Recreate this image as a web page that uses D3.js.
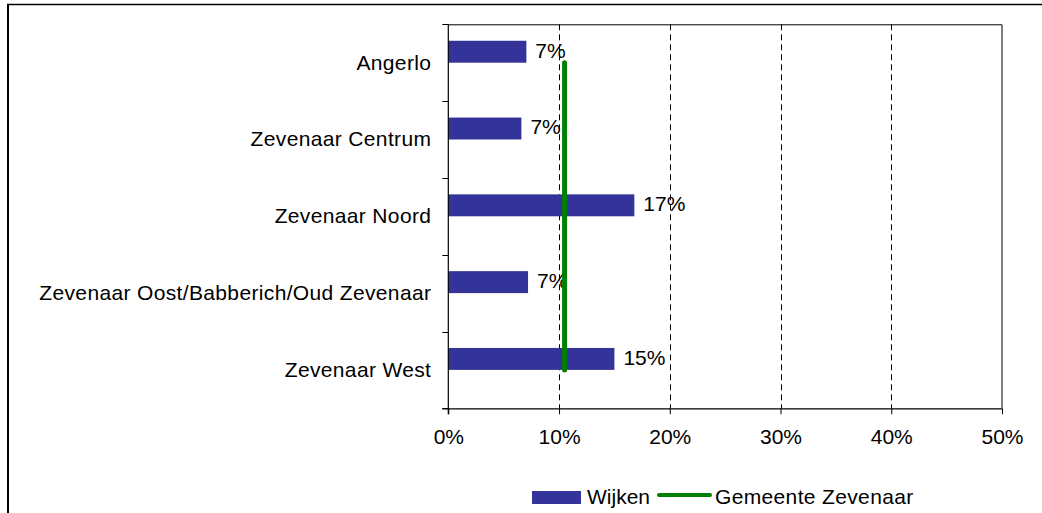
<!DOCTYPE html>
<html>
<head>
<meta charset="utf-8">
<script src="https://cdn.jsdelivr.net/npm/d3@7"></script>
<style>
  html, body { margin: 0; padding: 0; background: #fff; }
  svg { display: block; font-family: "Liberation Sans", Arial, Helvetica, sans-serif; }
</style>
</head>
<body>
<svg id="chart" width="1042" height="513"></svg>
<script>
// Share per district (wijk) with the municipal average as a reference line
const categories = [
  "Angerlo",
  "Zevenaar Centrum",
  "Zevenaar Noord",
  "Zevenaar Oost/Babberich/Oud Zevenaar",
  "Zevenaar West"
];
const wijkenValues = [0.0705, 0.066, 0.168, 0.072, 0.150];
const gemeenteValue = 0.105;
const xTicks = [0, 0.1, 0.2, 0.3, 0.4, 0.5];
const legendLabels = ["Wijken", "Gemeente Zevenaar"];

const barColor = "#333399";
const lineColor = "#008000";

const svg = d3.select("#chart");

// Outer frame of the chart object
svg.append("line").attr("x1", 7).attr("x2", 1042).attr("y1", 4.5).attr("y2", 4.5)
  .attr("stroke", "#000").attr("stroke-width", 1.5);
svg.append("line").attr("x1", 8).attr("x2", 8).attr("y1", 4).attr("y2", 513)
  .attr("stroke", "#000").attr("stroke-width", 2);

const plot = { left: 448.3, right: 1002, top: 24.3, bottom: 408.3 };

const x = d3.scaleLinear().domain([0, 0.5]).range([plot.left, plot.right]);
const y = d3.scaleBand().domain(categories).range([plot.top, plot.bottom]).padding(0);
const bw = y.bandwidth();
const barH = bw / 3.5;
const center = c => y(c) + bw / 2;

// Dashed vertical gridlines
svg.append("g").selectAll("line")
  .data(xTicks.filter(t => t > 0 && t < 0.5))
  .join("line")
  .attr("x1", d => Math.round(x(d)) + 0.5).attr("x2", d => Math.round(x(d)) + 0.5)
  .attr("y1", plot.top).attr("y2", plot.bottom)
  .attr("stroke", "#000").attr("stroke-width", 1)
  .attr("stroke-dasharray", "6,4");

// Plot frame (top and right)
svg.append("path")
  .attr("d", `M${plot.left},${plot.top + 0.5}H${plot.right}V${plot.bottom}`)
  .attr("fill", "none").attr("stroke", "#000").attr("stroke-width", 1);

// Bars
svg.append("g").selectAll("rect")
  .data(categories)
  .join("rect")
  .attr("x", x(0))
  .attr("y", c => center(c) - barH)
  .attr("width", (c, i) => x(wijkenValues[i]) - x(0))
  .attr("height", barH)
  .attr("fill", barColor);

// Value labels
const pct = d3.format(".0%");
svg.append("g").selectAll("text")
  .data(categories)
  .join("text")
  .attr("x", (c, i) => x(wijkenValues[i]) + 9)
  .attr("y", c => center(c) - barH / 2)
  .attr("dy", "0.28em")
  .attr("font-size", 21)
  .attr("fill", "#000")
  .text((c, i) => pct(wijkenValues[i]));

// Municipal average line
svg.append("line")
  .attr("x1", x(gemeenteValue)).attr("x2", x(gemeenteValue))
  .attr("y1", center(categories[0]))
  .attr("y2", center(categories[categories.length - 1]))
  .attr("stroke", lineColor).attr("stroke-width", 5)
  .attr("stroke-linecap", "round");

// X axis
const xAxis = svg.append("g")
  .attr("transform", `translate(0,${plot.bottom})`)
  .call(d3.axisBottom(x).tickValues(xTicks).tickFormat(pct).tickSizeInner(6).tickSizeOuter(0));
xAxis.select(".domain").attr("stroke", "#000").attr("stroke-width", 1.2)
  .attr("d", `M${plot.left - 6},0.5H${plot.right}`);
xAxis.selectAll(".tick line").attr("stroke", "#000");
xAxis.selectAll(".tick text")
  .attr("font-size", 21).attr("font-family", null).attr("fill", "#000")
  .attr("y", 21).attr("dy", "0.71em");

// Y axis: line, boundary ticks, category labels
const yAxis = svg.append("g");
yAxis.append("line")
  .attr("x1", plot.left).attr("x2", plot.left)
  .attr("y1", plot.top).attr("y2", plot.bottom + 6)
  .attr("stroke", "#000").attr("stroke-width", 1.2);
const bounds = categories.map(c => y(c)).concat([plot.bottom]);
yAxis.selectAll("line.tick")
  .data(bounds)
  .join("line")
  .attr("class", "tick")
  .attr("x1", plot.left - 6).attr("x2", plot.left)
  .attr("y1", d => Math.round(d) + 0.5).attr("y2", d => Math.round(d) + 0.5)
  .attr("stroke", "#000");
yAxis.selectAll("text")
  .data(categories)
  .join("text")
  .attr("x", plot.left - 17)
  .attr("y", c => center(c))
  .attr("dy", "0.33em")
  .attr("text-anchor", "end")
  .attr("font-size", 21)
  .attr("letter-spacing", "0.35px")
  .attr("fill", "#000")
  .text(c => c);

// Legend
const legend = svg.append("g");
legend.append("rect")
  .attr("x", 532).attr("y", 491).attr("width", 49).attr("height", 13)
  .attr("fill", barColor);
legend.append("text")
  .attr("x", 587).attr("y", 503.5)
  .attr("font-size", 21).attr("fill", "#000")
  .text(legendLabels[0]);
legend.append("line")
  .attr("x1", 659).attr("x2", 710).attr("y1", 495).attr("y2", 495)
  .attr("stroke", lineColor).attr("stroke-width", 4)
  .attr("stroke-linecap", "round");
legend.append("text")
  .attr("x", 715).attr("y", 503.5)
  .attr("font-size", 21).attr("letter-spacing", "0.35px").attr("fill", "#000")
  .text(legendLabels[1]);
</script>
</body>
</html>
